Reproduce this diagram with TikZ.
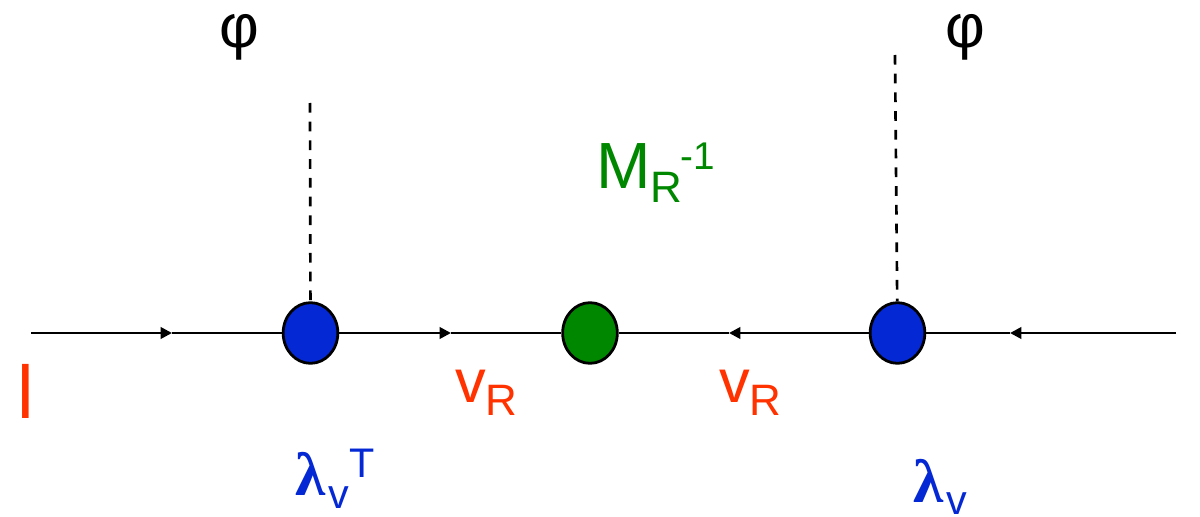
\documentclass[tikz,border=0pt]{standalone}
\usepackage{fontspec}
\setmainfont{Liberation Sans}
\newfontfamily\greekfont{Liberation Serif}[BoldFont={Liberation Serif Bold}]
\usetikzlibrary{arrows.meta,shapes.geometric}
\definecolor{vblue}{RGB}{4,41,212}
\definecolor{vgreen}{RGB}{0,135,0}
\definecolor{vred}{RGB}{255,50,0}
\newcommand{\bigsize}{\fontsize{46}{46}\selectfont}
\newcommand{\subsize}{\fontsize{33}{33}\selectfont}
\newcommand{\supsize}{\fontsize{31}{31}\selectfont}
\tikzset{
  vertex/.style={draw=black,ellipse,line width=2.1pt,minimum width=41pt,minimum height=45.5pt,inner sep=0pt},
  fermion/.style={line width=2pt},
  tipped/.style={fermion,-{Triangle[length=8.5pt,width=8.5pt]}},
  scalar/.style={line width=2pt,dash pattern=on 7.3pt off 6.75pt},
  lab/.style={anchor=base west,inner sep=0pt,font=\bigsize}
}
\begin{document}
\begin{tikzpicture}[x=0.75pt,y=-0.75pt]
\useasboundingbox (0,0) rectangle (1200,517);
\node[vertex,fill=vblue] (yukL) at (310.5,333) {};
\node[vertex,fill=vgreen] (maj) at (590,333) {};
\node[vertex,fill=vblue] (yukR) at (897.5,333) {};
\coordinate (lin) at (31,333);
\coordinate (linTip) at (172,333);
\coordinate (nuLTip) at (451,333);
\coordinate (nuRTip) at (729,333);
\coordinate (rin) at (1176,333);
\coordinate (rinTip) at (1010,333);
\coordinate (phiL) at (310,103);
\coordinate (phiR) at (895,55);
\draw[fermion] (linTip) -- (yukL);
\draw[tipped] (lin) -- (linTip);
\draw[fermion] (nuLTip) -- (maj);
\draw[tipped] (yukL) -- (nuLTip);
\draw[fermion] (maj) -- (nuRTip);
\draw[tipped] (yukR) -- (nuRTip);
\draw[fermion] (yukR) -- (rinTip);
\draw[tipped] (rin) -- (rinTip);
\draw[scalar] (phiL) -- (yukL);
\draw[scalar] (phiR) -- (yukR);
\node[lab] (phiLtxt) at (219,48) {φ};
\node[lab] (phiRtxt) at (945,48) {φ};
\node[lab,text=vgreen,font=\fontsize{49}{49}\selectfont] (mass) at (596,188) {M\raisebox{-10.5pt}{\subsize R}\kern-1.5pt\raisebox{13.5pt}{\fontsize{29}{29}\selectfont -1}};
\node[lab,text=vred,font=\fontsize{56}{56}\selectfont] (lep) at (17,418) {l};
\node[lab,text=vred] (nuA) at (455,402) {v\raisebox{-9.75pt}{\subsize R}};
\node[lab,text=vred] (nuB) at (719,402) {v\raisebox{-9.75pt}{\subsize R}};
\node[lab,text=vblue] (lamL) at (295,495) {{\greekfont\bfseries λ}\kern2.5pt\raisebox{-9.75pt}{\supsize v}\raisebox{13.5pt}{\supsize T}};
\node[lab,text=vblue] (lamR) at (913,502) {{\greekfont\bfseries λ}\kern2.5pt\raisebox{-9.4pt}{\supsize v}};
\end{tikzpicture}
\end{document}
